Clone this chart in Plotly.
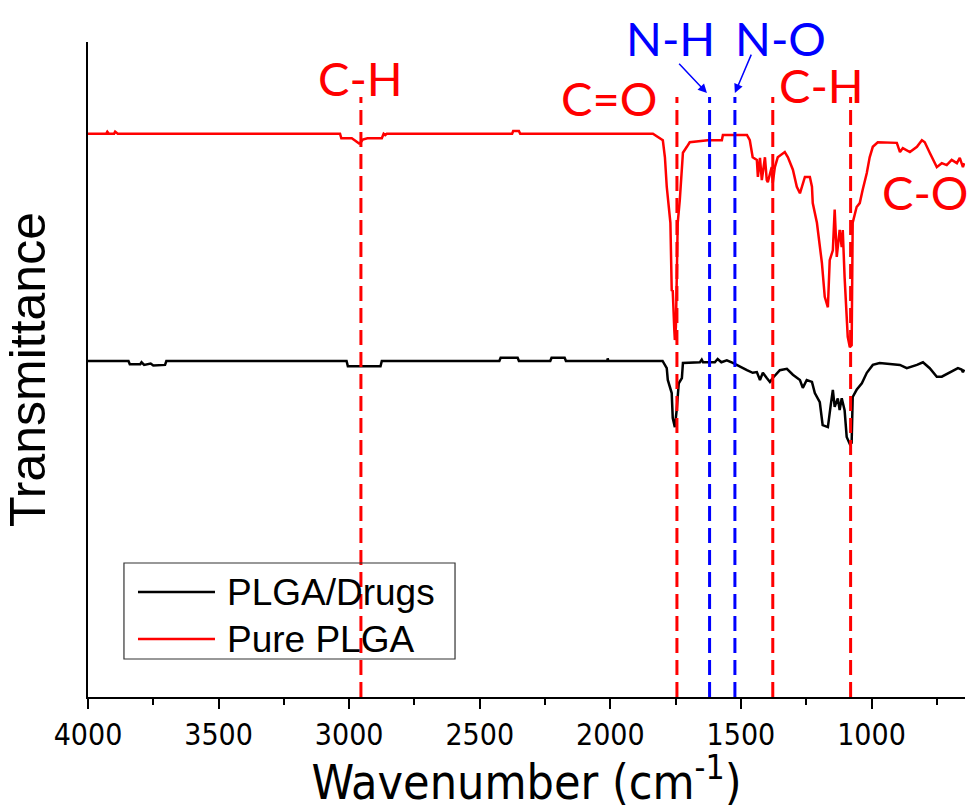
import plotly.graph_objects as go

# ---- data ----
pure_wn = [4000, 3930, 3926, 3920, 3900, 3896, 3886, 3035, 3030, 2990, 2975, 2962, 2955, 2948, 2930,
           2875, 2868, 2862, 2856, 2376, 2372, 2350, 2345, 1837, 1799, 1791, 1784, 1770, 1765, 1761,
           1755, 1753, 1749, 1746, 1742, 1734, 1726, 1722, 1707, 1696, 1627, 1573, 1569, 1477, 1466,
           1455, 1439, 1435, 1427, 1420, 1408, 1401, 1397, 1382, 1378, 1370, 1359, 1332, 1320, 1301,
           1286, 1274, 1255, 1236, 1228, 1225, 1209, 1190, 1179, 1167, 1160, 1148, 1141, 1133, 1122,
           1114, 1110, 1103, 1091, 1083, 1076, 1072, 1057, 1045, 1034, 1018, 1007, 995, 976, 903,
           891, 880, 853, 826, 807, 796, 777, 750, 731, 712, 693, 673, 662, 650, 645]
pure_t = [86.0, 86.0, 86.3, 86.0, 86.0, 86.3, 86.0, 86.0, 85.3, 85.3, 84.9, 84.5, 84.7, 85.1, 85.3,
          85.3, 86.0, 85.8, 86.0, 86.0, 86.4, 86.4, 86.0, 86.0, 85.0, 82.4, 77.9, 72.4, 62.1, 62.0,
          56.0, 54.5, 56.5, 62.1, 72.4, 75.9, 80.0, 83.1, 84.0, 84.7, 85.0, 85.0, 85.8, 85.8, 85.0,
          82.4, 82.0, 79.4, 82.3, 78.9, 82.4, 78.9, 78.6, 80.9, 78.5, 80.9, 82.4, 83.2, 82.4, 80.5,
          77.9, 76.9, 79.4, 79.4, 77.9, 75.4, 72.4, 66.3, 61.1, 59.5, 66.7, 68.2, 74.4, 67.2, 71.3,
          68.7, 71.3, 64.1, 55.0, 53.4, 53.7, 72.4, 74.8, 75.4, 77.4, 80.0, 82.4, 84.0, 84.7, 84.6,
          83.2, 83.8, 83.2, 84.0, 85.0, 84.7, 83.1, 80.9, 81.5, 81.2, 82.0, 81.5, 82.3, 80.9, 81.5]

drug_wn = [4000, 3845, 3840, 3800, 3795, 3785, 3760, 3750, 3705, 3700, 3010, 3005, 2880, 2875, 2425,
           2420, 2355, 2350, 2230, 2225, 2175, 2170, 2012, 2010, 2008, 1800, 1784, 1780, 1765, 1761,
           1753, 1746, 1738, 1726, 1722, 1657, 1650, 1645, 1600, 1589, 1575, 1554, 1531, 1504, 1477,
           1455, 1439, 1427, 1416, 1401, 1389, 1378, 1351, 1324, 1301, 1274, 1263, 1248, 1228, 1217,
           1198, 1187, 1167, 1156, 1148, 1141, 1129, 1122, 1114, 1103, 1095, 1083, 1076, 1072, 1057,
           1037, 1018, 995, 969, 891, 865, 826, 803, 777, 750, 731, 700, 669, 655, 650, 645]
drug_t = [51.3, 51.3, 50.8, 50.8, 51.1, 50.7, 50.9, 50.6, 50.7, 51.3, 51.3, 50.5, 50.5, 51.3, 51.3,
          51.8, 51.8, 51.3, 51.3, 51.8, 51.8, 51.3, 51.3, 51.7, 51.3, 51.3, 50.2, 48.4, 46.4, 42.6,
          41.2, 43.8, 47.9, 48.7, 51.0, 51.1, 51.5, 51.1, 51.1, 51.6, 51.1, 51.4, 51.0, 50.4, 49.9,
          49.5, 49.6, 48.4, 49.5, 48.7, 48.1, 48.7, 49.9, 50.1, 49.2, 48.4, 47.2, 48.4, 48.1, 46.4,
          45.0, 41.5, 41.2, 44.6, 46.9, 44.3, 45.6, 43.8, 45.6, 43.8, 39.7, 38.6, 38.8, 45.8, 46.9,
          47.9, 49.5, 50.7, 51.0, 50.7, 50.2, 50.7, 51.1, 50.2, 48.9, 48.9, 49.5, 50.2, 50.0, 49.6, 50.0]

band_wn = [2955, 1745, 1620, 1523, 1378, 1080]
band_colors = ["#ff0000", "#ff0000", "#0000ff", "#0000ff", "#ff0000", "#ff0000"]
band_top = 91.6

xtick_vals = [4000, 3500, 3000, 2500, 2000, 1500, 1000]

series_names = ["PLGA/Drugs", "Pure PLGA"]
series_colors = ["#000000", "#ff0000"]

NARROW = "Liberation Sans Narrow, Arial Narrow, DejaVu Sans Condensed, sans-serif"
ARIAL = "Liberation Sans, Arial, sans-serif"
LABEL = "Lato, Noto Sans, sans-serif"

fig = go.Figure()
fig.add_trace(go.Scatter(x=drug_wn, y=drug_t, mode="lines", name=series_names[0],
                         line=dict(color=series_colors[0], width=2.5), showlegend=False))
fig.add_trace(go.Scatter(x=pure_wn, y=pure_t, mode="lines", name=series_names[1],
                         line=dict(color=series_colors[1], width=2.5), showlegend=False))

for wn, c in zip(band_wn, band_colors):
    fig.add_shape(type="line", xref="x", yref="y", x0=wn, x1=wn, y0=0, y1=band_top,
                  line=dict(color=c, width=3, dash="15px,7px"), layer="above")

# band labels (x = wavenumber, y = paper fraction)
labels = [("C-H", 2955, 0.945, "#ff0000"), ("C=O", 2005, 0.915, "#ff0000"),
          ("N-H", 1769, 1.006, "#0000ff"), ("N-O", 1348, 1.006, "#0000ff"),
          ("C-H", 1190, 0.934, "#ff0000"), ("C-O", 795, 0.771, "#ff0000")]
for t, x, y, c in labels:
    fig.add_annotation(x=x, y=y, xref="x", yref="paper", text=t, showarrow=False,
                       font=dict(family=LABEL, size=47, color=c), xanchor="center", yanchor="middle")

# arrows
fig.add_annotation(x=1630, y=92.2, ax=1742, ay=96.9, xref="x", yref="y", axref="x", ayref="y",
                   text="", showarrow=True, arrowhead=2, arrowsize=1.2, arrowwidth=1.5, arrowcolor="#0000ff")
fig.add_annotation(x=1523, y=92.2, ax=1458, ay=98.3, xref="x", yref="y", axref="x", ayref="y",
                   text="", showarrow=True, arrowhead=2, arrowsize=1.2, arrowwidth=1.5, arrowcolor="#0000ff")

# legend box (Origin style, long line samples)
fig.add_shape(type="rect", xref="paper", yref="paper", x0=0.041, x1=0.4185, y0=0.058, y1=0.2046,
              line=dict(color="#333333", width=1.2), fillcolor="rgba(0,0,0,0)")
for name, col, yy in zip(series_names, series_colors, [0.1603, 0.0885]):
    fig.add_shape(type="line", xref="paper", yref="paper", x0=0.057, x1=0.1448, y0=yy, y1=yy,
                  line=dict(color=col, width=2.5))
    fig.add_annotation(x=0.1562, y=yy, xref="paper", yref="paper", text=name, showarrow=False,
                       xanchor="left", yanchor="middle",
                       font=dict(family=ARIAL, size=37, color="black"))

fig.update_layout(
    width=971, height=810,
    margin=dict(l=88, r=6, t=42, b=113, autoexpand=False),
    paper_bgcolor="white", plot_bgcolor="white",
    showlegend=False,
    xaxis=dict(range=[4000, 642], tickvals=xtick_vals, ticks="outside", ticklen=10, tickwidth=2,
               tickcolor="black", showline=True, linecolor="black", linewidth=2, showgrid=False,
               zeroline=False, automargin=False, tickfont=dict(family=NARROW, size=30, color="black"),
               minor=dict(dtick=250, ticks="outside", ticklen=6, tickwidth=2, tickcolor="black"),
               title=dict(text="Wavenumber (cm<sup>-1</sup>)", standoff=10,
                          font=dict(family=NARROW, size=48, color="black"))),
    yaxis=dict(range=[0, 100], showticklabels=False, ticks="", showline=True, linecolor="black",
               linewidth=2, showgrid=False, zeroline=False, automargin=False,
               title=dict(text="Transmittance", standoff=28,
                          font=dict(family=ARIAL, size=50, color="black"))),
)

fig.write_html("out.html", config={"displayModeBar": False},
               post_script="document.body.style.margin='0';document.body.style.overflow='hidden';")
